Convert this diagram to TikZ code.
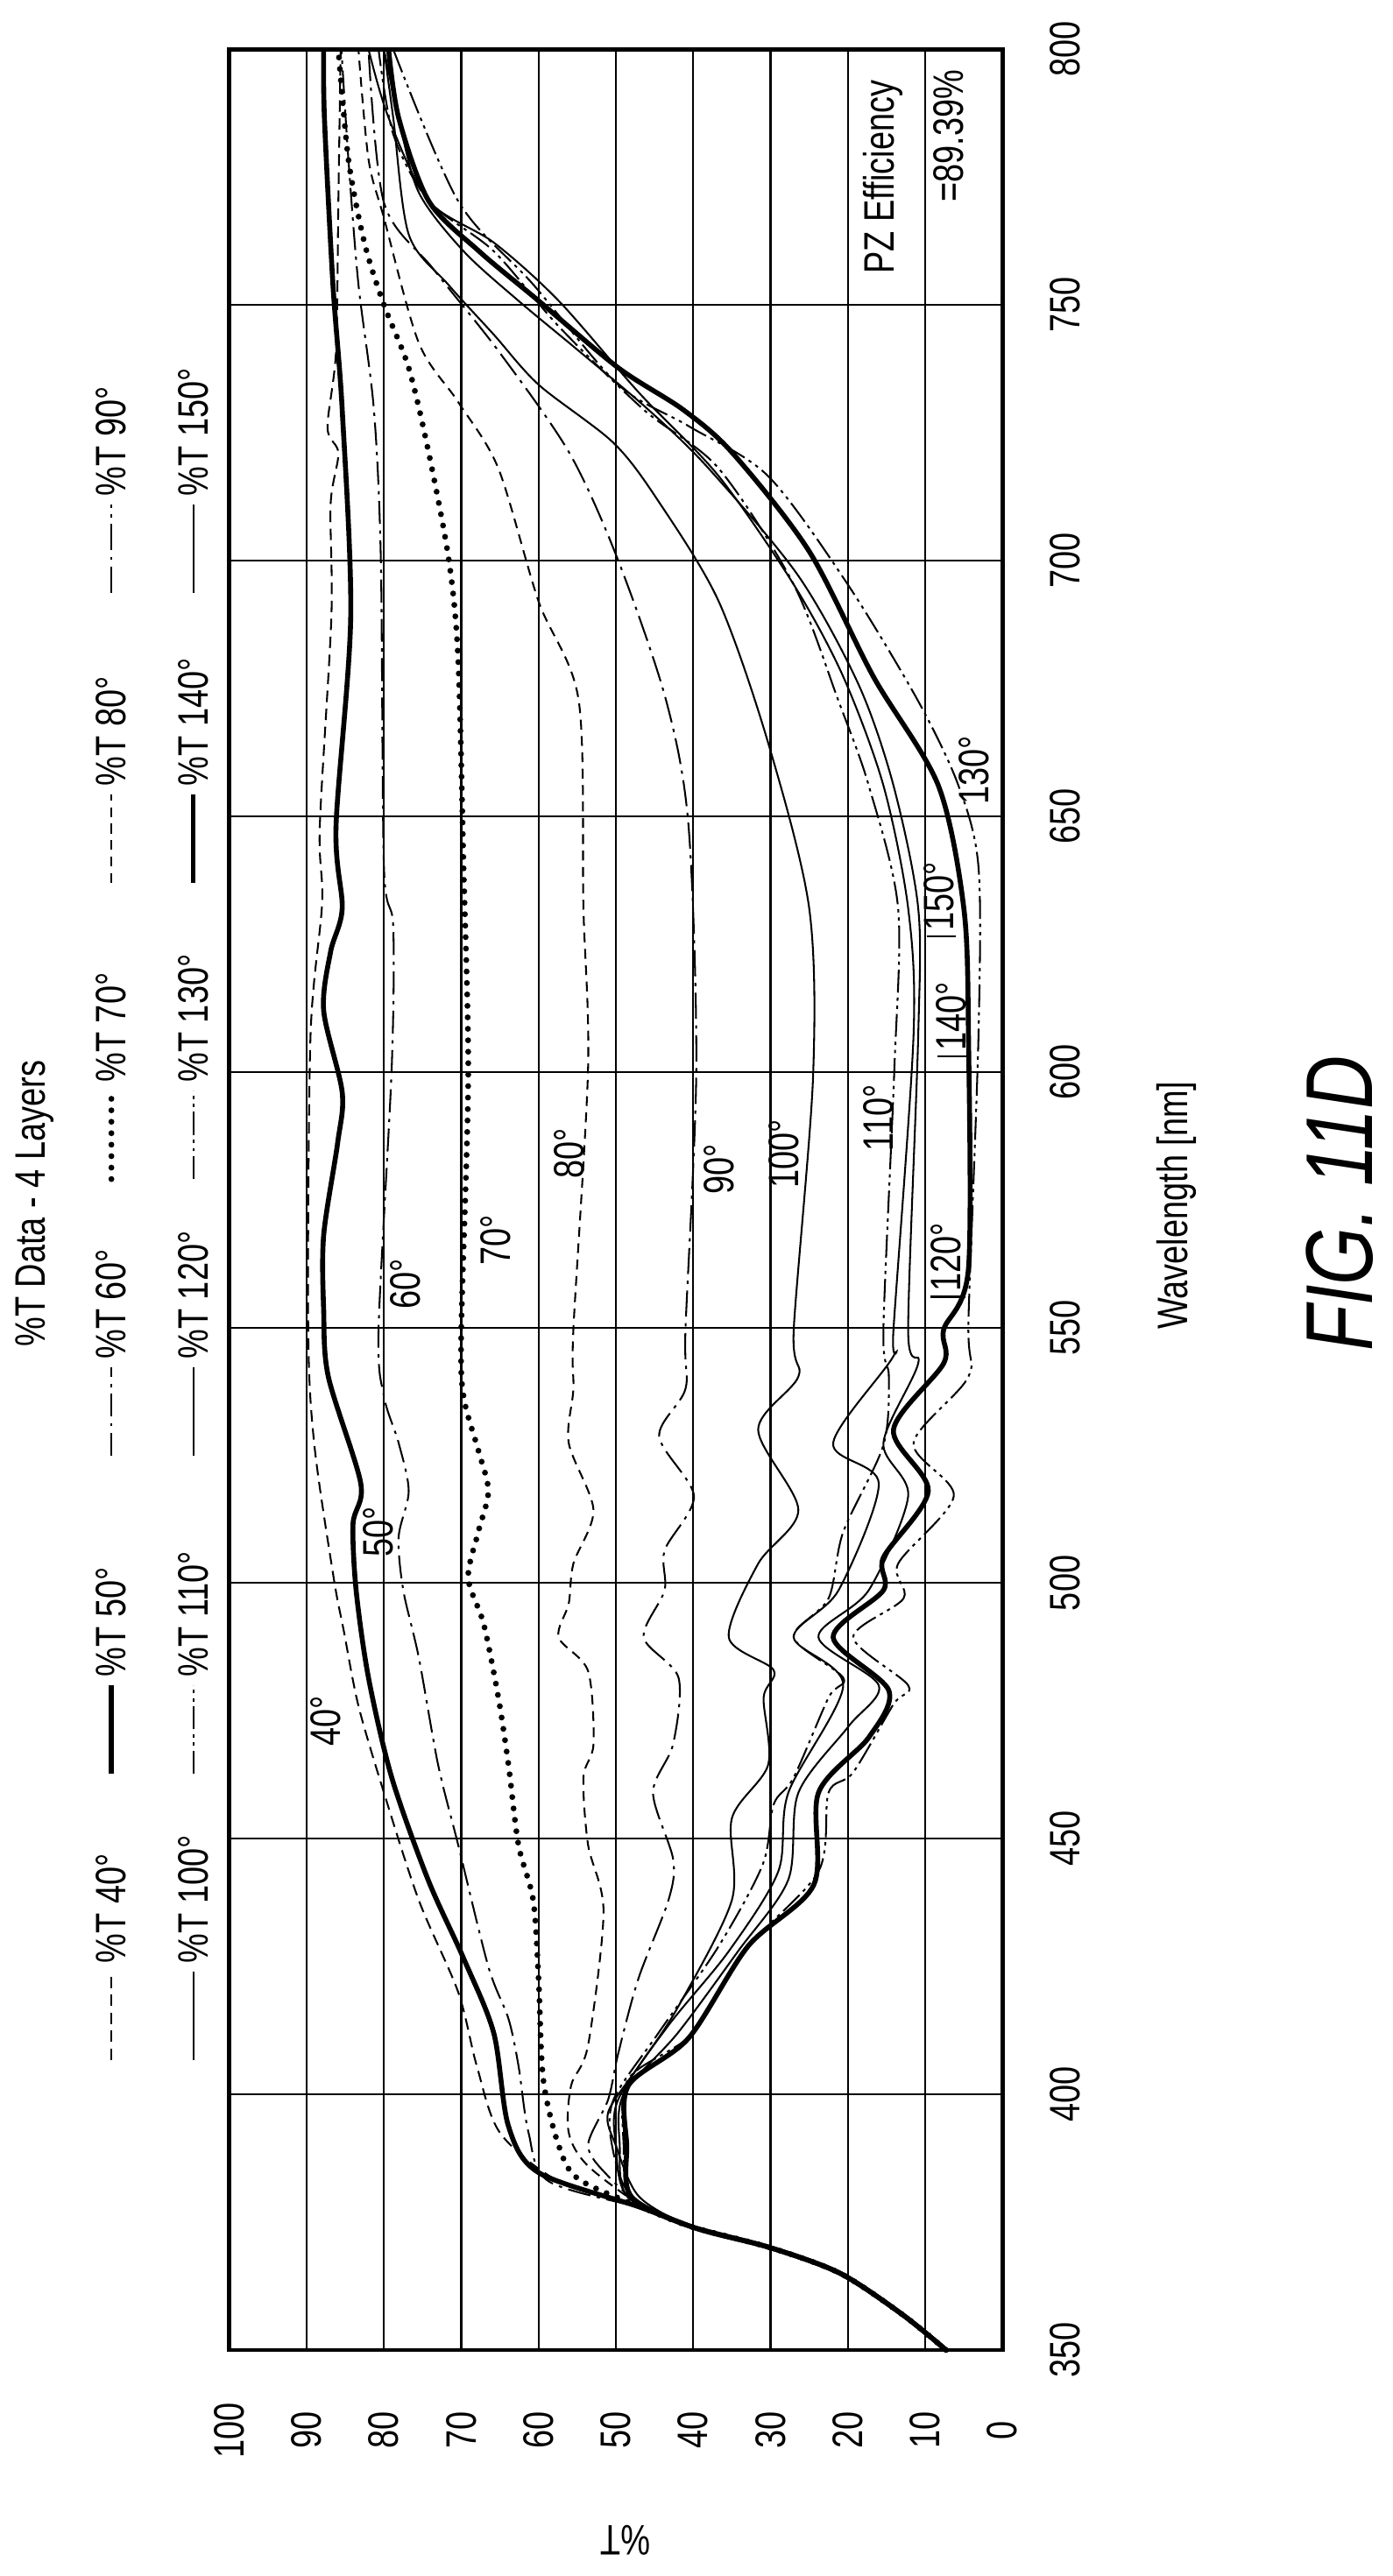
\documentclass[tikz,border=0pt]{standalone}
\usepackage{fontspec}
\setmainfont{Liberation Sans}
\newcommand\cz[1]{\scalebox{0.78}[1]{#1}}
\begin{document}
\begin{tikzpicture}[x=1pt,y=1pt,
  thinc/.style={line width=1.1pt},
  thickc/.style={line width=3pt},
  c40/.style={thinc,dash pattern=on 7pt off 4pt},
  c50/.style={thickc},
  c60/.style={thinc,dash pattern=on 14pt off 4pt on 2pt off 4pt},
  c70/.style={line width=3.6pt,line cap=round,dash pattern=on 0pt off 7pt},
  c80/.style={thinc,dash pattern=on 6pt off 4pt},
  c90/.style={thinc,dash pattern=on 16pt off 4pt on 2pt off 4pt},
  c100/.style={thinc},
  c110/.style={thinc,dash pattern=on 14pt off 3pt on 2pt off 3pt on 2pt off 3pt},
  c120/.style={thinc},
  c130/.style={thinc,dash pattern=on 14pt off 3pt on 2pt off 3pt on 2pt off 3pt},
  c140/.style={thickc},
  c150/.style={thinc},
  lbl/.style={rotate=90,font=\fontsize{26}{30}\selectfont,inner sep=0pt},
  gridl/.style={line width=1.1pt}]
\useasboundingbox (0,0) rectangle (850,1573);
% legend
\node[lbl] (title) at (21,838) {\cz{\%T Data - 4 Layers}};
\foreach \name/\sty/\X/\Yb in {
  40/c40/68/315, 50/c50/68/490, 60/c60/68/684, 70/c70/68/853, 80/c80/68/1034, 90/c90/68/1211,
  100/c100/118/315, 110/c110/118/490, 120/c120/118/684, 130/c130/118/853, 140/c140/118/1034, 150/c150/118/1211}{
  \coordinate (la\name) at (\X,\Yb);
  \coordinate (lb\name) at (\X,\Yb+54);
  \draw[\sty] (la\name) -- (lb\name);
  \node[lbl,anchor=west] (lt\name) at ([yshift=5pt]lb\name) {\cz{\%T \name°}};
}
% tick labels
\foreach \t in {0,10,...,100} \node[lbl] (tt\t) at ({612-4.72*\t},89) {\cz{\t}};
\foreach \l in {350,400,...,800} \node[lbl] (tl\l) at (650,{138+3.122*(\l-350)}) {\cz{\l}};
% plot
\begin{scope}[shift={(612,-954.7)},x={(0pt,3.122pt)},y={(-4.72pt,0pt)}]
\foreach \t in {10,20,...,90} \draw[gridl] (350,\t) -- (800,\t);
\foreach \l in {400,450,...,750} \draw[gridl] (\l,0) -- (\l,100);
\draw[line width=2.6pt] (350,0) rectangle (800,100);
% curves
\draw[c40] plot[smooth] coordinates {(350,7.3) (357,13) (365,21) (370,30) (374,40) (377.5,46) (383,57.4) (392.5,65) (405.6,68) (420,70.4) (438,75.5) (459,80) (476,83.3) (490.7,85.2) (501,86.5) (527,89) (550,89.8) (607,89.5) (633,88) (648,88.3) (689,86.8) (711,86.9) (721,85.9) (726,87.3) (741,86.2) (770,85.9) (800,85.6)};
\draw[c50] plot[smooth] coordinates {(350,7.3) (357,13) (365,21) (370,30) (374,40) (378,47) (384.7,60) (393.8,63.9) (412,65.8) (426.6,69.7) (442,74.3) (462,79) (481.5,82) (498.6,83.6) (511.6,84) (519.5,83) (540.4,87.2) (553.5,87.8) (568,87.8) (586,86) (596,85.4) (612,87.8) (623.5,86.9) (632,85.4) (648,86.2) (689,84.3) (729.5,85.4) (754,86.6) (786.6,87.7) (800,87.8)};
\draw[c60] plot[smooth] coordinates {(350,7.3) (357,13) (365,21) (370,30) (374,40) (377.5,46) (383,58.7) (392.5,61.3) (405.6,62.6) (414.8,63.9) (425,66.5) (448.8,70.4) (464.5,73) (485.5,75.5) (498.6,77.5) (509,78.1) (518,76.8) (527.4,78.1) (536.5,80) (549.6,80.7) (600.7,79) (628.4,78.8) (640,80) (700,80.4) (729.5,81.3) (754,83.3) (778.5,84.6) (800,85.5)};
\draw[c70] plot[smooth] coordinates {(350,7.3) (357,13) (365,21) (370,30) (374,40) (377.5,46) (383.4,54.8) (390,57.4) (403,59.4) (422.6,60) (438,60.7) (448.8,62.6) (464.5,63.9) (477.6,65.2) (492,67.1) (501,69.1) (510,67.8) (518,66.5) (526,67.8) (536.5,69.7) (549.6,70) (599,69.1) (640,69.7) (680.6,70.4) (700,71.6) (721,74.2) (737.7,76.8) (750,80) (762,82.5) (778.5,84.6) (800,85.9)};
\draw[c80] plot[smooth] coordinates {(350,7.3) (357,13) (365,21) (370,30) (374,40) (377.5,46) (386,53.6) (392.5,56.1) (401.7,55.8) (409.6,53.6) (435.7,51.6) (448.8,53.6) (462,54.2) (468.5,52.9) (482.8,53.6) (489.4,57.4) (496,56.1) (503.8,55.5) (514.3,52.9) (527.4,56.1) (538,55.5) (549.6,55.5) (600.7,53.6) (632,54.2) (672.5,54.8) (692,60) (718,65.2) (731,70.4) (742.6,75.5) (767,80) (778.5,82) (800,83.3)};
\draw[c90] plot[smooth] coordinates {(350,7.3) (357,13) (365,21) (370,30) (374,40) (377.5,46) (384,51) (390,53.6) (399,51) (408,49.7) (422.6,47.1) (438,43.2) (446,42.6) (459,45.2) (468.5,42.6) (481.5,41.9) (489.4,46.4) (498.6,43.7) (506.4,43.7) (517,39.9) (528.7,44.4) (538,41) (549.6,41) (600.7,39.6) (648,40.6) (672.6,43.5) (700,49.7) (721,56) (741,65.2) (757,73.6) (770,80) (800,82)};
\draw[c100] plot[smooth] coordinates {(350,7.3) (357,13) (365,21) (370,30) (374,40) (380,47) (390,50) (396.5,51) (405.6,47) (417,42) (438,35) (454,35) (464.5,30.3) (477.6,30.9) (483,29.6) (489.4,35.4) (503.8,31.6) (514.3,26.4) (530,31.6) (540.4,26.4) (549.6,27) (599,24.5) (632,25) (664.3,30.3) (692,36.7) (711.6,44.5) (723,50.3) (734.4,60) (744.2,65.8) (754,71.7) (763.8,76.8) (786.6,78.8) (800,80)};
\draw[c110] plot[smooth] coordinates {(350,7.3) (357,13) (365,21) (370,30) (374,40) (380,48) (390,50.5) (399,50.3) (412,44.5) (429,36.7) (445,31) (456.7,29.6) (462,27) (477.6,22.5) (481.5,20.6) (489.4,27) (497,22.5) (510,20.6) (527,15.4) (540.4,14.7) (549.6,15.4) (600,14) (632,13.5) (656,17.3) (672.5,21.2) (695.3,27) (718,36.7) (729.5,46.4) (745.8,57.4) (760.5,65.8) (770.3,74.2) (783.4,78.8) (800,80.7)};
\draw[c120] plot[smooth] coordinates {(350,7.3) (357,13) (365,21) (370,30) (374,40) (380,48.5) (390,50) (399,49.7) (413.5,43.2) (428,35.4) (443.6,29) (459,27.7) (480,20.6) (489.4,27) (498.6,21.2) (519.5,16) (527.4,21.9) (544.4,14.1) (549.6,14.1) (607.3,11.5) (632,12.2) (656,15.4) (677.3,20.6) (695.3,27) (716.5,36.7) (732.8,47) (750.8,57.4) (762.2,65.8) (770.3,74.2) (786.6,79.4) (800,82)};
\draw[c130] plot[smooth] coordinates {(350,7.3) (357,13) (365,21) (370,30) (374,40) (380,48) (390,49) (403,48.4) (412,40) (428,33.5) (443.6,23.8) (459,22.5) (463,19.3) (476.3,14.1) (480,12.2) (489.4,19.3) (497,12.8) (503.8,13.5) (517,6.3) (527.4,11.5) (540.4,4.4) (551.7,4.4) (607.3,3.1) (640,3.1) (656,5.7) (672.5,10.9) (695.3,20) (716.5,30.3) (726.3,40.6) (734.4,49.7) (754,60.7) (770.3,70.4) (800,78.8)};
\draw[c140] plot[smooth] coordinates {(350,7.3) (357,13) (365,21) (370,30) (374,40) (380,48) (390,48.6) (401.7,48.4) (411,40.6) (429,32.9) (441,24.4) (459,23.8) (469.8,17.3) (479,14.7) (489.4,21.9) (498.6,15.4) (505,15.4) (518,9.6) (530,14.1) (543,7.6) (549.6,7.6) (561.5,4.4) (607.3,4.4) (632,5) (656,8.3) (677.3,16.7) (701.8,25) (721,34.9) (729.5,41.3) (737.7,49.7) (750.8,60) (760.5,67.7) (770.3,74.2) (786.6,78.1) (800,79.4)};
\draw[c150] plot[smooth] coordinates {(350,7.3) (357,13) (365,21) (370,30) (374,40) (380,48.5) (390,49.5) (400,49) (412,42) (428,34.2) (442,27.7) (459,26.4) (472,19.9) (480,16) (489.4,23.8) (498.6,17.3) (517,12.2) (527.4,15.4) (543,10.9) (549.6,12.2) (607,10.9) (632,10.9) (656,14.1) (675.7,18.6) (697,26.4) (718,38) (729.5,45.8) (741,54.8) (750.8,62.6) (760.5,69.7) (772,75.5) (786.6,78.1) (800,80)};
% curve labels
\node[lbl] (n40) at (473,87.5) {\cz{40°}};
\node[lbl] (n50) at (510,80.7) {\cz{50°}};
\node[lbl] (n60) at (558.5,77.2) {\cz{60°}};
\node[lbl] (n70) at (567,65.5) {\cz{70°}};
\node[lbl] (n80) at (584,56) {\cz{80°}};
\node[lbl] (n90) at (581,36.7) {\cz{90°}};
\node[lbl] (n100) at (584,28.3) {\cz{100°}};
\node[lbl] (n110) at (591,16) {\cz{110°}};
\node[lbl,anchor=west] (n120) at (557,7.3) {\cz{120°}};
\node[lbl,anchor=west] (n140) at (604,6.6) {\cz{140°}};
\node[lbl,anchor=west] (n150) at (627.5,8.2) {\cz{150°}};
\node[lbl] (n130) at (659,3.7) {\cz{130°}};
\coordinate (k120) at (556,4.8); \draw[thinc] (556,9.3) -- (k120);
\coordinate (k140) at (603,4.4); \draw[thinc] (603,8.4) -- (k140);
\coordinate (k150) at (626.5,6); \draw[thinc] (626.5,9.8) -- (k150);
\node[lbl] (pz) at (775,15.4) {\cz{PZ Efficiency}};
\node[lbl] (pzv) at (783,7) {\cz{=89.39\%}};
\end{scope}
\node[lbl] (xlab) at (718,837) {\cz{Wavelength [nm]}};
\node[font=\fontsize{26}{30}\selectfont,inner sep=0pt,rotate=180] (ylab) at (382,22) {\cz{\%T}};
\node[rotate=90,font=\fontsize{58}{64}\selectfont\itshape,inner sep=0pt] (fig) at (818,838) {\cz{FIG. 11D}};
\end{tikzpicture}
\end{document}
